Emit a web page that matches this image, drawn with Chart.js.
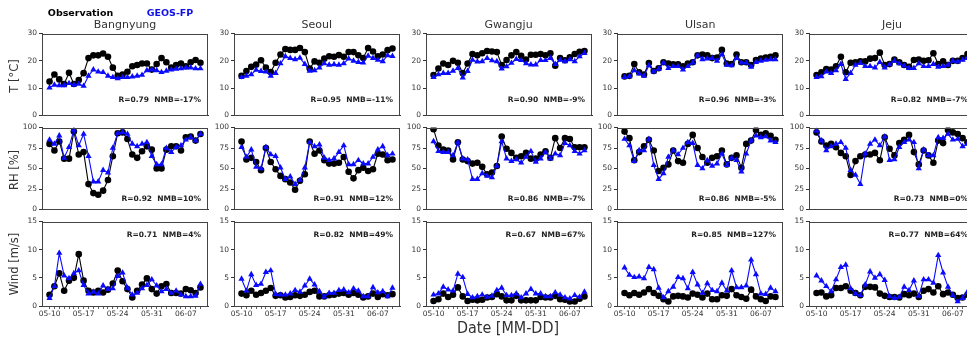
<!DOCTYPE html>
<html>
<head>
<meta charset="utf-8">
<script src="https://cdn.jsdelivr.net/npm/chart.js@4"></script>
<style>
  html, body { margin:0; padding:0; background:#fff; }
  body { width:967px; height:338px; overflow:hidden; position:relative; font-family:"DejaVu Sans", sans-serif; }
  .lbl { position:absolute; white-space:nowrap; transform:translate(-50%,-50%); color:#333; }
  canvas { position:absolute; }
</style>
</head>
<body>
<script>
// ---------- data ----------
const dates = ['05-10','05-11','05-12','05-13','05-14','05-15','05-16','05-17','05-18','05-19','05-20','05-21','05-22','05-23','05-24','05-25','05-26','05-27','05-28','05-29','05-30','05-31','06-01','06-02','06-03','06-04','06-05','06-06','06-07','06-08','06-09','06-10'];
const tickIndices = [0, 7, 14, 21, 28];
const stations = ['Bangnyung', 'Seoul', 'Gwangju', 'Ulsan', 'Jeju'];
const seriesNames = ['Observation', 'GEOS-FP'];
const rowLabels = ['T [°C]', 'RH [%]', 'Wind [m/s]'];
const xLabel = 'Date [MM-DD]';
const tTicks = [0, 10, 20, 30];
const rhTicks = [0, 25, 50, 75, 100];
const windTicks = [0, 5, 10, 15];
const tStats = ['R=0.79  NMB=-17%', 'R=0.95  NMB=-11%', 'R=0.90  NMB=-9%', 'R=0.96  NMB=-3%', 'R=0.82  NMB=-7%'];
const rhStats = ['R=0.92  NMB=10%', 'R=0.91  NMB=12%', 'R=0.86  NMB=-7%', 'R=0.86  NMB=-5%', 'R=0.73  NMB=0%'];
const windStats = ['R=0.71  NMB=4%', 'R=0.82  NMB=49%', 'R=0.67  NMB=67%', 'R=0.85  NMB=127%', 'R=0.77  NMB=64%'];

const bangnyungTObs = [12.4,15.0,13.2,11.5,15.6,11.5,13.0,15.5,21.0,22.0,22.0,22.7,21.5,17.5,14.5,15.0,16.0,18.0,18.5,19.0,19.0,16.8,18.8,21.0,19.5,17.5,18.5,19.0,18.0,19.5,20.3,19.3];
const bangnyungTMod = [10.2,11.2,11.0,11.0,11.8,11.2,11.5,10.8,14.5,16.8,16.0,15.8,14.5,14.0,13.6,14.0,14.0,14.2,14.5,14.8,16.5,16.8,16.5,15.8,16.3,16.8,17.0,17.2,17.5,17.5,17.2,17.2];
const bangnyungRHObs = [80,72,83,62,62,95,67,70,31,20,18,23,36,65,93,94,86,67,63,71,77,73,50,50,73,77,77,72,88,89,84,92];
const bangnyungRHMod = [85,80,90,63,76,97,78,92,65,34,34,48,45,75,93,94,92,80,77,80,82,65,55,55,75,70,76,78,85,88,84,92];
const bangnyungWindObs = [2.0,3.5,5.8,2.7,4.5,5.0,9.2,4.5,2.7,2.4,2.7,2.4,2.9,4.0,6.3,4.4,3.0,1.5,2.7,3.8,4.9,3.0,2.2,3.5,3.9,2.3,2.3,2.2,3.0,2.8,2.3,3.3];
const bangnyungWindMod = [1.4,3.5,9.4,5.4,4.9,5.8,6.3,3.7,2.2,2.5,2.2,3.6,3.0,3.1,5.3,5.9,3.2,2.0,2.3,3.1,3.7,4.7,3.6,2.6,3.0,2.3,2.7,2.0,1.7,1.7,1.8,3.9];

const seoulTObs = [14.5,16.3,17.8,18.6,20.2,17.5,15.9,19.3,22.3,24.3,24.0,24.0,24.7,23.2,17.2,19.8,19.3,20.8,21.7,21.5,22.1,21.5,23.2,23.2,22.0,21.0,24.7,23.4,21.7,22.3,23.9,24.5];
const seoulTMod = [14.0,14.5,15.0,16.7,16.2,16.0,14.5,15.5,19.0,21.6,21.0,20.5,21.1,18.8,16.3,16.5,17.5,19.0,18.5,18.7,18.5,19.0,20.8,20.0,19.5,19.3,21.8,21.0,20.3,19.8,22.0,21.7];
const seoulRHObs = [83,61,63,58,48,75,58,49,41,37,33,24,35,43,83,68,72,60,56,56,57,64,46,38,48,51,47,49,68,67,60,61];
const seoulRHMod = [76,64,73,52,50,76,67,65,51,37,40,31,36,51,82,77,79,63,60,62,70,78,55,55,60,56,56,64,73,77,66,68];
const seoulWindObs = [2.2,1.9,2.7,2.0,2.3,2.7,3.2,1.8,1.9,1.5,1.6,1.9,1.8,2.0,2.5,2.7,1.7,1.7,1.9,2.0,2.2,2.3,2.0,2.3,2.0,1.5,1.7,2.2,1.6,2.1,1.9,2.1];
const seoulWindMod = [4.8,2.7,5.6,3.7,3.9,6.0,6.3,2.1,2.0,2.0,2.2,2.8,2.5,3.6,4.8,3.8,2.6,1.6,2.3,2.3,2.8,2.9,2.4,3.1,2.7,1.7,1.7,3.3,2.4,2.6,1.7,3.2];

const gwangjuTObs = [14.8,17.2,19.0,18.5,20.0,19.3,15.5,19.0,22.5,22.0,22.8,23.6,23.4,23.2,18.5,20.3,22.0,23.2,21.8,20.5,22.2,22.2,22.5,22.0,22.8,18.2,21.0,20.2,21.3,22.5,23.3,23.6];
const gwangjuTMod = [14.0,15.0,15.5,15.5,16.3,17.3,13.8,16.2,20.3,19.7,19.8,21.0,20.1,19.8,17.1,17.9,19.2,20.6,20.2,19.0,18.6,18.6,20.2,20.2,21.0,18.8,20.3,19.8,20.5,19.8,21.6,22.8];
const gwangjuRHObs = [98,78,73,72,61,82,61,59,56,57,52,43,45,53,89,74,69,63,65,69,62,62,67,71,63,87,75,87,86,76,76,76];
const gwangjuRHMod = [83,71,70,70,66,82,62,61,37,37,44,41,39,53,83,62,59,61,57,64,71,58,62,70,62,68,66,81,78,71,68,72];
const gwangjuWindObs = [0.9,1.2,2.2,1.6,2.0,3.3,1.7,0.9,1.1,1.0,1.1,1.5,1.6,2.1,1.7,1.0,1.0,1.8,1.0,1.0,1.0,1.0,1.6,1.5,1.5,1.8,1.2,1.1,0.8,0.8,1.3,1.7];
const gwangjuWindMod = [2.0,2.2,3.4,2.9,2.7,5.7,5.1,2.1,1.5,1.7,2.0,1.6,1.8,2.8,3.2,1.9,1.9,2.2,1.5,2.2,3.0,2.2,2.2,1.7,1.7,2.4,2.0,1.5,1.3,1.9,1.6,2.5];

const ulsanTObs = [14.3,14.5,18.8,15.8,15.0,19.2,16.3,17.3,19.5,19.0,18.7,18.7,18.0,19.0,19.5,22.0,22.3,22.0,21.0,21.2,24.0,19.0,18.8,22.3,19.5,19.5,18.5,20.3,20.8,21.2,21.5,22.0];
const ulsanTMod = [14.0,14.3,16.5,15.3,14.5,18.3,16.0,17.0,19.3,17.3,18.0,18.0,16.8,18.0,19.3,22.0,20.5,20.8,21.0,20.0,22.3,18.5,18.3,21.0,19.3,19.3,17.8,19.5,20.0,20.3,20.5,20.5];
const ulsanRHObs = [95,87,60,70,77,85,72,47,51,55,72,59,57,80,91,75,64,57,63,65,72,55,63,66,51,80,84,97,91,93,90,85];
const ulsanRHMod = [86,78,59,72,72,86,54,37,44,64,72,67,75,82,81,54,50,60,53,56,68,54,63,60,46,68,84,90,88,89,84,82];
const ulsanWindObs = [2.3,1.9,2.3,2.0,2.4,3.0,2.3,1.8,1.2,0.8,1.7,1.8,1.7,1.5,2.2,2.0,1.5,2.2,1.2,1.2,1.9,1.8,3.0,1.9,1.6,1.3,2.9,1.7,1.2,0.9,1.7,1.6];
const ulsanWindMod = [6.8,5.5,5.1,5.2,4.9,6.9,6.5,3.2,1.5,2.6,3.4,5.1,4.9,3.1,6.0,3.8,2.3,4.0,2.8,2.6,4.1,2.7,6.3,3.3,3.3,3.6,8.2,5.6,2.2,2.1,3.2,2.6];

const jejuTObs = [14.8,15.8,17.0,16.8,18.0,21.5,15.8,19.3,19.5,19.8,19.8,20.8,21.0,23.0,18.5,18.8,20.5,19.5,18.5,17.8,20.3,20.5,20.0,20.2,22.8,18.8,19.8,18.5,20.0,20.0,21.0,22.5];
const jejuTMod = [14.0,14.3,16.0,15.5,16.5,18.8,13.3,15.5,18.5,19.2,18.0,18.0,17.5,19.5,17.5,18.7,20.0,19.0,18.2,17.3,17.3,19.0,18.0,18.0,18.8,17.8,18.0,18.5,20.0,19.7,20.3,21.0];
const jejuRHObs = [94,83,78,80,76,69,65,42,59,65,67,67,69,60,88,74,66,81,85,91,70,55,72,66,57,84,81,97,94,92,87,82];
const jejuRHMod = [96,84,72,77,80,82,75,48,42,31,68,80,85,78,89,60,61,76,82,85,82,50,73,66,66,88,87,92,85,86,77,80];
const jejuWindObs = [2.3,2.4,1.7,1.9,3.2,3.2,3.5,2.7,2.3,1.9,3.4,3.4,3.3,2.2,1.8,1.6,1.6,1.5,2.1,1.9,2.2,1.6,2.7,3.0,2.4,3.5,2.1,2.4,2.0,1.4,1.5,2.0];
const jejuWindMod = [5.4,4.5,3.5,2.6,4.7,6.9,7.3,3.1,2.2,1.9,3.8,6.1,5.0,5.6,4.6,1.7,1.4,1.6,3.4,2.8,4.5,1.8,4.7,4.7,4.1,9.0,5.9,3.4,1.9,0.8,1.4,2.5];

// ---------- tables built from the arrays ----------
const obsTable = [
  [bangnyungTObs, seoulTObs, gwangjuTObs, ulsanTObs, jejuTObs],
  [bangnyungRHObs, seoulRHObs, gwangjuRHObs, ulsanRHObs, jejuRHObs],
  [bangnyungWindObs, seoulWindObs, gwangjuWindObs, ulsanWindObs, jejuWindObs]
];
const modTable = [
  [bangnyungTMod, seoulTMod, gwangjuTMod, ulsanTMod, jejuTMod],
  [bangnyungRHMod, seoulRHMod, gwangjuRHMod, ulsanRHMod, jejuRHMod],
  [bangnyungWindMod, seoulWindMod, gwangjuWindMod, ulsanWindMod, jejuWindMod]
];
const statsTable = [tStats, rhStats, windStats];
const ticksTable = [tTicks, rhTicks, windTicks];

// ---------- layout ----------
const plotW = 166, plotH = 85;
const colLeft = c => 42 + 191.75 * c;
const rowTop = [33, 127, 221];
const statY = [100 - 33, 199 - 127, 235 - 221]; // offset from plot top
const padL = 32, padR = 8, padT = 6;
const DARK = '#333';
const BLUE = '#0a0aff';

function addLabel(text, x, y, css) {
  const d = document.createElement('div');
  d.className = 'lbl';
  d.textContent = text;
  d.style.left = x + 'px';
  d.style.top = y + 'px';
  Object.assign(d.style, css || {});
  document.body.appendChild(d);
  return d;
}

const framePlugin = {
  id: 'frame',
  afterDatasetsDraw(chart, args, opts) {
    const a = chart.chartArea, ctx = chart.ctx;
    ctx.save();
    ctx.strokeStyle = '#444';
    ctx.lineWidth = 1;
    ctx.strokeRect(Math.round(a.left) + 0.5, Math.round(a.top) + 0.5, Math.round(a.right - a.left) - 1, Math.round(a.bottom - a.top) - 1);
    ctx.font = 'bold 7.5px "DejaVu Sans"';
    ctx.fillStyle = '#222';
    ctx.textAlign = 'right';
    ctx.textBaseline = 'middle';
    ctx.fillText(opts.stat, a.right - 7, a.top + opts.statY);
    ctx.restore();
  }
};

const allDays = dates.map((d, i) => i);

for (let r = 0; r < 3; r++) {
  for (let c = 0; c < 5; c++) {
    const padB = r === 2 ? 18 : 4;
    const W = plotW + padL + padR, H = plotH + padT + padB;
    const cv = document.createElement('canvas');
    cv.width = W; cv.height = H;
    cv.style.width = W + 'px'; cv.style.height = H + 'px';
    cv.style.left = (colLeft(c) - padL) + 'px';
    cv.style.top = (rowTop[r] - padT) + 'px';
    document.body.appendChild(cv);
    const yt = ticksTable[r];
    const obs = obsTable[r][c].map((v, i) => ({ x: i, y: v }));
    const mod = modTable[r][c].map((v, i) => ({ x: i, y: v }));
    new Chart(cv, {
      type: 'line',
      data: {
        datasets: [
          { label: seriesNames[0], data: obs, borderColor: '#000', backgroundColor: '#000', borderWidth: 1.1,
            pointStyle: 'circle', pointRadius: 3.3, pointBorderWidth: 0, tension: 0, order: 2 },
          { label: seriesNames[1], data: mod, borderColor: BLUE, backgroundColor: BLUE, borderWidth: 1.1,
            pointStyle: 'triangle', pointRadius: 3.6, pointBorderWidth: 0, tension: 0, order: 1 }
        ]
      },
      options: {
        responsive: false, animation: false, devicePixelRatio: 1,
        layout: { padding: { left: 0, top: padT, right: padR, bottom: 0 }, autoPadding: false },
        plugins: { legend: { display: false }, tooltip: { enabled: false },
                   frame: { stat: statsTable[r][c], statY: statY[r] } },
        scales: {
          x: {
            type: 'linear', min: -1.55, max: 32.55,
            afterBuildTicks: s => { s.ticks = allDays.map(v => ({ value: v })); },
            afterFit: s => { s.height = padB; },
            grid: { display: r === 2, drawOnChartArea: false, drawTicks: true, tickLength: 3,
                    tickColor: DARK, tickWidth: 0.8 },
            border: { display: true, color: DARK },
            ticks: { display: r === 2, autoSkip: false, maxRotation: 0, padding: 1, color: DARK,
                     font: { family: 'DejaVu Sans', size: 7.5 },
                     callback: v => tickIndices.includes(v) ? dates[v] : '' }
          },
          y: {
            min: yt[0], max: yt[yt.length - 1],
            afterBuildTicks: s => { s.ticks = yt.map(v => ({ value: v })); },
            afterFit: s => { s.width = padL; },
            grid: { drawOnChartArea: false, drawTicks: true, tickLength: 3, tickColor: DARK },
            border: { display: true, color: DARK },
            ticks: { padding: 2, color: DARK, font: { family: 'DejaVu Sans', size: 7.5 } }
          }
        }
      },
      plugins: [framePlugin]
    });
  }
}

// ---------- text ----------
stations.forEach((s, c) => addLabel(s, colLeft(c) + plotW / 2, 24, { fontSize: '11px' }));
addLabel(seriesNames[0], 80.5, 12, { fontSize: '9.5px', fontWeight: 'bold', color: '#000' });
addLabel(seriesNames[1], 170, 12, { fontSize: '9.5px', fontWeight: 'bold', color: '#1010ee' });
rowLabels.forEach((t, r) => addLabel(t, 14, rowTop[r] + plotH / 2, { fontSize: '11.5px', transform: 'translate(-50%,-50%) rotate(-90deg)' }));
addLabel(xLabel, 508, 327, { fontSize: '16.5px', transform: 'translate(-50%,-50%) scaleX(0.87)' });
</script>
</body>
</html>
